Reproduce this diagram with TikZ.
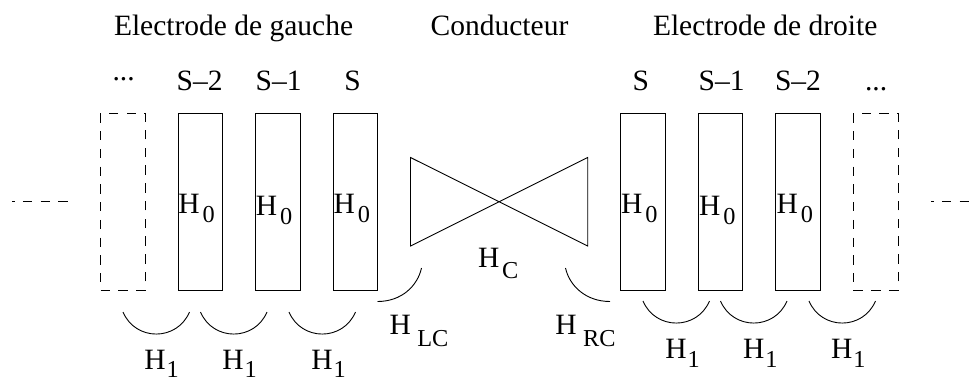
\documentclass[tikz,border=0pt]{standalone}
\usepackage{fontspec}
\setmainfont{Liberation Serif}
\newcommand{\Hsb}[3]{H\kern#1pt\raisebox{-#2pt}{\fontsize{24.3}{26}\selectfont #3}}
\tikzset{
  lab/.style={inner sep=0pt,outer sep=0pt,anchor=base west,font=\fontsize{29.5}{32}\selectfont},
  cell/.style={draw=black,line width=0.9pt,minimum width=44.5pt,minimum height=177pt,inner sep=0pt,outer sep=0pt},
  hollowcell/.style={minimum width=44.5pt,minimum height=177pt,inner sep=0pt,outer sep=0pt},
  dashcell/.style={draw=black,line width=0.9pt,dash pattern=on 9.3pt off 8.45pt},
  dashline/.style={draw=black,line width=0.8pt,dash pattern=on 9.3pt off 8.45pt,dash phase=6.8pt},
  link/.style={draw=black,line width=0.9pt}
}
\begin{document}
\begin{tikzpicture}[x=1pt,y=-1pt]
\useasboundingbox (0,0) rectangle (977,378);
% titles
\node[lab] (t1) at (114,35.7) {Electrode de gauche};
\node[lab] (t2) at (430.7,35.7) {Conducteur};
\node[lab] (t3) at (653,35.7) {Electrode de droite};
% column labels
\node[lab] (c0) at (112.5,80.5) {...};
\node[lab] (c1) at (176.7,90.7) {S–2};
\node[lab] (c2) at (255.7,90.7) {S–1};
\node[lab] (c3) at (344.3,90.7) {S};
\node[lab] (d3) at (632.7,90.7) {S};
\node[lab] (d2) at (698.7,90.7) {S–1};
\node[lab] (d1) at (775,90.7) {S–2};
\node[lab] (d0) at (865,90.7) {...};
% cells
\node[hollowcell] (L0) at (122.8,201.5) {};
\draw[dashcell] (L0.south west) -- (L0.south east) -- (L0.north east) -- (L0.north west) -- cycle;
\node[cell] (L1) at (200.2,201.5) {};
\node[cell] (L2) at (277.8,201.5) {};
\node[cell] (L3) at (355.3,201.5) {};
\node[cell] (R3) at (643,201.5) {};
\node[cell] (R2) at (720.5,201.5) {};
\node[cell] (R1) at (798,201.5) {};
\node[hollowcell] (R0) at (875.7,201.5) {};
\draw[dashcell] (R0.south west) -- (R0.south east) -- (R0.north east) -- (R0.north west) -- cycle;
% H0
\node[lab] (h1) at (178.3,213) {\Hsb{3}{9}{0}};
\node[lab] (h2) at (255.8,215) {\Hsb{3}{9}{0}};
\node[lab] (h3) at (333.5,213) {\Hsb{3}{9}{0}};
\node[lab] (h4) at (621,213) {\Hsb{3}{9}{0}};
\node[lab] (h5) at (699,215) {\Hsb{3}{9}{0}};
\node[lab] (h6) at (776.5,213) {\Hsb{3}{9}{0}};
% side dashes
\coordinate (a1) at (12,201.5);
\coordinate (a2) at (68,201.5);
\coordinate (b1) at (931,201.5);
\coordinate (b2) at (969,201.5);
\draw[dashline] (a1) -- (a2);
\draw[dashline] (b1) -- (b2);
% conductor
\coordinate (q1) at (410.5,157.5);
\coordinate (q2) at (587.7,246);
\coordinate (q3) at (587.7,157.5);
\coordinate (q4) at (410.5,246);
\draw[link,line join=miter] (q1) -- (q2) -- (q3) -- (q4) -- cycle;
\node[lab] (hc) at (478,267) {\Hsb{2.7}{11}{C}};
% couplings
\foreach \n/\x/\y in {p1/123/312,p2/189.5/312,p3/200.5/312,p4/267/312,p5/289/312,p6/355.5/312,
                      r1/643/301,r2/709.5/301,r3/720.5/301,r4/787/301,r5/809/301,r6/875.5/301}
  \coordinate (\n) at (\x,\y);
\foreach \a/\b in {p1/p2,p3/p4,p5/p6,r1/r2,r3/r4,r5/r6}
  \draw[link] (\a) .. controls +(12.5,29.4) and +(-12.5,29.4) .. (\b);
\coordinate (lc1) at (377.5,301.5);
\coordinate (lc2) at (421.5,268);
\coordinate (rc1) at (565.5,268);
\coordinate (rc2) at (610,301.5);
\draw[link] (lc1) .. controls +(24,0) and +(-4,18) .. (lc2);
\draw[link] (rc1) .. controls +(4,18) and +(-24,0) .. (rc2);
\node[lab] (hlc) at (389.5,334.5) {\Hsb{6.5}{11.5}{LC}};
\node[lab] (hrc) at (555.3,334.5) {\Hsb{6.5}{11.5}{RC}};
% H1
\node[lab] (k1) at (144.4,369.5) {\Hsb{1}{7.5}{1}};
\node[lab] (k2) at (222.4,369.5) {\Hsb{1}{7.5}{1}};
\node[lab] (k3) at (311.4,369.5) {\Hsb{1}{7.5}{1}};
\node[lab] (k4) at (665.3,358) {\Hsb{1}{9}{1}};
\node[lab] (k5) at (743,358) {\Hsb{1}{9}{1}};
\node[lab] (k6) at (831,358) {\Hsb{1}{9}{1}};
\end{tikzpicture}
\end{document}
